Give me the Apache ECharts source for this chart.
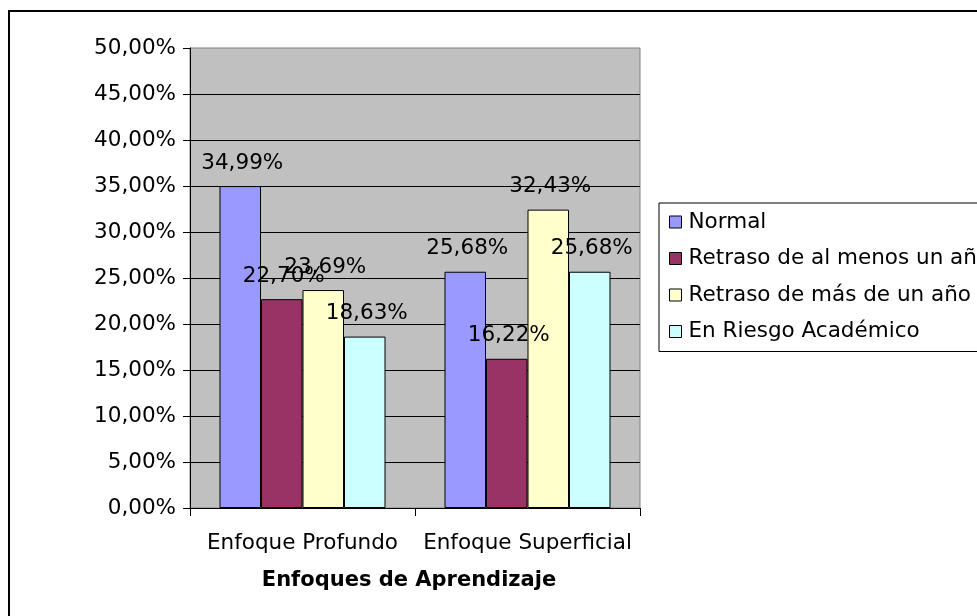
<!DOCTYPE html>
<html>
<head>
<meta charset="utf-8">
<script src="https://cdn.jsdelivr.net/npm/echarts@6/dist/echarts.min.js"></script>
<style>
  html, body { margin: 0; padding: 0; background: #fff; }
  #chart { width: 977px; height: 616px; }
</style>
</head>
<body>
<div id="chart"></div>
<script>
// Learning approaches by academic status
const categories = ['Enfoque Profundo', 'Enfoque Superficial'];
const seriesNames = ['Normal', 'Retraso de al menos un año', 'Retraso de más de un año', 'En Riesgo Académico'];
const normal = [34.99, 25.68];
const retrasoAlMenos = [22.70, 16.22];
const retrasoMas = [23.69, 32.43];
const enRiesgo = [18.63, 25.68];
const yTicks = [0, 5, 10, 15, 20, 25, 30, 35, 40, 45, 50];

const colors = ['#9999FF', '#993366', '#FFFFCC', '#CCFFFF'];
const FONT = 'DejaVu Sans';
const FS = 21.5;

const pct = v => Number(v).toFixed(2).replace('.', ',') + '%';

const seriesData = [normal, retrasoAlMenos, retrasoMas, enRiesgo];

const chart = echarts.init(document.getElementById('chart'), null, { renderer: 'canvas' });

chart.setOption({
  animation: false,
  backgroundColor: '#fff',
  textStyle: { fontFamily: FONT, color: '#000' },
  graphic: [{
    type: 'rect',
    shape: { x: 9, y: 11, width: 1200, height: 1000 },
    style: { fill: 'none', stroke: '#000', lineWidth: 2 },
    silent: true,
    z: -10
  }],
  grid: {
    left: 190, right: 337, top: 48, bottom: 108,
    show: true,
    backgroundColor: '#C0C0C0',
    borderColor: '#808080',
    borderWidth: 1
  },
  legend: {
    orient: 'vertical',
    left: 659, top: 203,
    padding: [7, 60, 8, 10],
    borderColor: '#000',
    borderWidth: 1,
    itemWidth: 12, itemHeight: 12,
    itemGap: 12.5,
    icon: 'rect',
    itemStyle: { borderColor: '#000', borderWidth: 1 },
    textStyle: { fontFamily: FONT, fontSize: FS, color: '#000', lineHeight: 24, padding: [0, 0, 0, 2] },
    data: seriesNames
  },
  xAxis: {
    type: 'category',
    data: categories,
    axisLine: { lineStyle: { color: '#000', width: 1 } },
    axisTick: { show: true, length: 8, lineStyle: { color: '#000' } },
    axisLabel: { interval: 0, fontFamily: FONT, fontSize: FS, color: '#000', margin: 24 },
    name: 'Enfoques de Aprendizaje',
    nameLocation: 'middle',
    nameGap: 62,
    nameTextStyle: { fontFamily: FONT, fontSize: 21, fontWeight: 'bold', color: '#000', padding: [0, 12, 0, 0] }
  },
  yAxis: {
    type: 'value',
    min: yTicks[0],
    max: yTicks[yTicks.length - 1],
    interval: yTicks[1] - yTicks[0],
    axisLine: { show: true, lineStyle: { color: '#000' } },
    axisTick: { show: true, length: 7, lineStyle: { color: '#000' } },
    axisLabel: { fontFamily: FONT, fontSize: FS, color: '#000', margin: 14, formatter: pct },
    splitLine: { show: true, showMaxLine: false, showMinLine: false, lineStyle: { color: '#000', width: 1 } }
  },
  series: seriesNames.map((name, i) => ({
    name,
    type: 'bar',
    data: seriesData[i],
    barWidth: 41.5,
    barGap: '0%',
    itemStyle: { color: colors[i], borderColor: '#000', borderWidth: 1 },
    label: {
      show: true,
      position: 'top',
      distance: 12,
      offset: [2, 0],
      fontFamily: FONT,
      fontSize: FS,
      color: '#000',
      formatter: p => pct(p.value)
    }
  }))
});
</script>
</body>
</html>
